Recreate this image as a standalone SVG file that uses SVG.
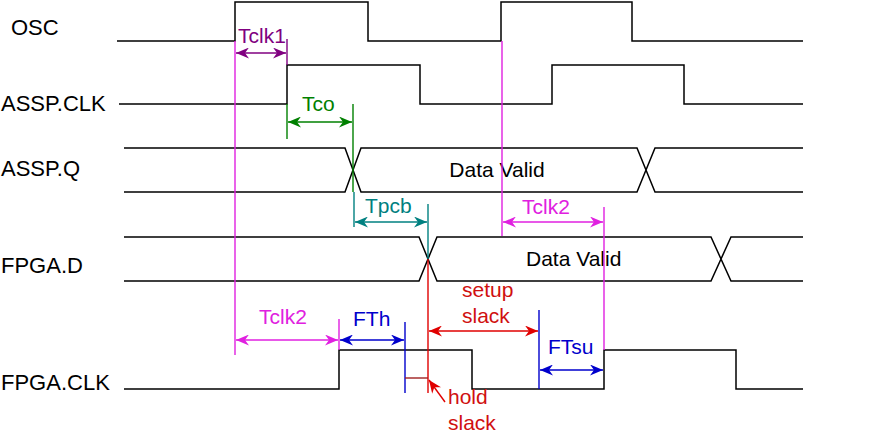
<svg xmlns="http://www.w3.org/2000/svg" width="879" height="437" viewBox="0 0 879 437">
<style>
text{font-family:"Liberation Sans",Arial,sans-serif;font-size:21px}
.sig{fill:none;stroke:#000;stroke-width:1.5}
.lbl{fill:#000}
.nm{font-size:22px}
.pu{stroke:#800080;fill:none;stroke-width:1.4}
.gr{stroke:#008000;fill:none;stroke-width:1.4}
.te{stroke:#008080;fill:none;stroke-width:1.4}
.mg{stroke:#e020e0;fill:none;stroke-width:1.4}
.bl{stroke:#0000cc;fill:none;stroke-width:1.4}
.rd{stroke:#e00000;fill:none;stroke-width:1.4}
.dr{stroke:#a02020;fill:none;stroke-width:1.4}
</style>
<defs>
<marker id="aPu" viewBox="0 0 13 11" refX="13" refY="5.5" markerWidth="13" markerHeight="11" markerUnits="userSpaceOnUse" orient="auto-start-reverse"><path d="M0,0 L13,5.5 L0,11 L4,5.5 z" fill="#800080"/></marker>
<marker id="aGr" viewBox="0 0 13 11" refX="13" refY="5.5" markerWidth="13" markerHeight="11" markerUnits="userSpaceOnUse" orient="auto-start-reverse"><path d="M0,0 L13,5.5 L0,11 L4,5.5 z" fill="#008000"/></marker>
<marker id="aTe" viewBox="0 0 13 11" refX="13" refY="5.5" markerWidth="13" markerHeight="11" markerUnits="userSpaceOnUse" orient="auto-start-reverse"><path d="M0,0 L13,5.5 L0,11 L4,5.5 z" fill="#008080"/></marker>
<marker id="aMg" viewBox="0 0 13 11" refX="13" refY="5.5" markerWidth="13" markerHeight="11" markerUnits="userSpaceOnUse" orient="auto-start-reverse"><path d="M0,0 L13,5.5 L0,11 L4,5.5 z" fill="#e020e0"/></marker>
<marker id="aBl" viewBox="0 0 13 11" refX="13" refY="5.5" markerWidth="13" markerHeight="11" markerUnits="userSpaceOnUse" orient="auto-start-reverse"><path d="M0,0 L13,5.5 L0,11 L4,5.5 z" fill="#0000cc"/></marker>
<marker id="aRd" viewBox="0 0 13 11" refX="13" refY="5.5" markerWidth="13" markerHeight="11" markerUnits="userSpaceOnUse" orient="auto-start-reverse"><path d="M0,0 L13,5.5 L0,11 L4,5.5 z" fill="#e00000"/></marker>
</defs>
<rect width="879" height="437" fill="#fff"/>
<g id="osc">
<text class="lbl nm" x="11" y="35">OSC</text>
<path class="sig" d="M117,41 H235 V2 H368 V41 H501 V2 H632 V41 H803"/>
</g>
<g id="assp-clk">
<text class="lbl nm" x="1" y="111">ASSP.CLK</text>
<path class="sig" d="M119,104 H287 V65 H420 V104 H552 V65 H684 V104 H803"/>
</g>
<g id="assp-q">
<text class="lbl nm" x="1" y="176">ASSP.Q</text>
<path class="sig" d="M124,148 H345 L361,192 H637 L655,148 H803 M124,192 H345 L361,148 H637 L655,192 H803"/>
<text class="lbl" x="497" y="177" text-anchor="middle">Data Valid</text>
</g>
<g id="fpga-d">
<text class="lbl nm" x="1" y="273">FPGA.D</text>
<path class="sig" d="M124,237 H419 L437,281 H711 L731,237 H803 M124,281 H419 L437,237 H711 L731,281 H803"/>
<text class="lbl" x="526" y="266">Data Valid</text>
</g>
<g id="fpga-clk">
<text class="lbl nm" x="1" y="390">FPGA.CLK</text>
<path class="sig" d="M124,389 H339 V350 H472 V389 H604 V350 H736 V389 H803"/>
</g>
<g id="connectors">
<line class="mg" x1="235" y1="41" x2="235" y2="355"/>
<line class="pu" x1="287" y1="39" x2="287" y2="65"/>
<line class="pu" x1="236" y1="53" x2="286" y2="53" marker-start="url(#aPu)" marker-end="url(#aPu)"/>
<text x="238" y="43" fill="#800080">Tclk1</text>
<line class="gr" x1="287" y1="104" x2="287" y2="139"/>
<line class="gr" x1="353" y1="104" x2="353" y2="192"/>
<line class="gr" x1="288" y1="122" x2="352" y2="122" marker-start="url(#aGr)" marker-end="url(#aGr)"/>
<text x="302" y="111" fill="#008000">Tco</text>
<line class="te" x1="354" y1="192" x2="354" y2="227"/>
<line class="te" x1="428" y1="204" x2="428" y2="259"/>
<line class="te" x1="355" y1="222" x2="427" y2="222" marker-start="url(#aTe)" marker-end="url(#aTe)"/>
<text x="365" y="213" fill="#008080">Tpcb</text>
<line class="mg" x1="502" y1="41" x2="502" y2="236"/>
<line class="mg" x1="604" y1="207" x2="604" y2="350"/>
<line class="mg" x1="503" y1="222" x2="603" y2="222" marker-start="url(#aMg)" marker-end="url(#aMg)"/>
<text x="522" y="214" fill="#e020e0">Tclk2</text>
<line class="mg" x1="339" y1="319" x2="339" y2="350"/>
<line class="mg" x1="236" y1="340" x2="338" y2="340" marker-start="url(#aMg)" marker-end="url(#aMg)"/>
<text x="259" y="324" fill="#e020e0">Tclk2</text>
<line class="bl" x1="405" y1="322" x2="405" y2="393"/>
<line class="bl" x1="340" y1="340" x2="404" y2="340" marker-start="url(#aBl)" marker-end="url(#aBl)"/>
<text x="353" y="326" fill="#0000cc">FTh</text>
<line class="bl" x1="539" y1="310" x2="539" y2="389"/>
<line class="bl" x1="540" y1="370" x2="603" y2="370" marker-start="url(#aBl)" marker-end="url(#aBl)"/>
<text x="548" y="354" fill="#0000cc">FTsu</text>
<line class="rd" x1="428" y1="259" x2="428" y2="393"/>
<line class="rd" x1="429" y1="331" x2="538" y2="331" marker-start="url(#aRd)" marker-end="url(#aRd)"/>
<text x="462" y="297" fill="#d01010">setup</text>
<text x="462" y="323" fill="#d01010">slack</text>
<line class="dr" x1="405" y1="378" x2="428" y2="378"/>
<line class="rd" x1="445" y1="402" x2="429" y2="380" marker-end="url(#aRd)"/>
<text x="448" y="404" fill="#d01010">hold</text>
<text x="448" y="430" fill="#d01010">slack</text>
</g>
</svg>
